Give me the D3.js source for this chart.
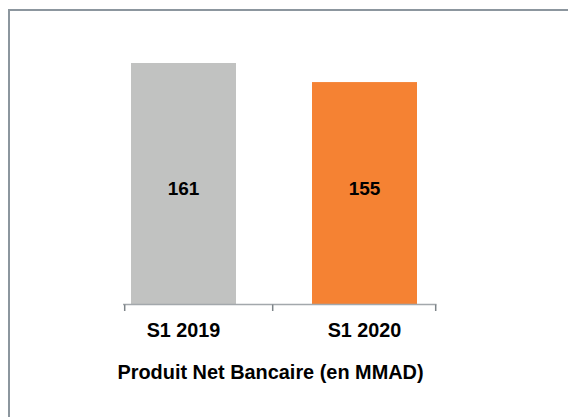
<!DOCTYPE html>
<html>
<head>
<meta charset="utf-8">
<script src="https://cdn.jsdelivr.net/npm/d3@7"></script>
<style>
  html, body { margin: 0; padding: 0; background: #ffffff; }
  svg { display: block; }
  text { font-family: "Liberation Sans", Arial, Helvetica, sans-serif; font-weight: bold; fill: #000; }
</style>
</head>
<body>
<svg id="chart" width="568" height="417"></svg>
<script>
const categories = ["S1 2019", "S1 2020"];
const values = [161, 155];
const valueLabels = ["161", "155"];
const colors = ["#c1c2c1", "#f58233"];
const title = "Produit Net Bancaire (en MMAD)";

const W = 568, H = 417;
const svg = d3.select("#chart");

// frame (top and left borders only)
svg.append("path")
  .attr("d", `M9,${H} L9,10 L${W},10`)
  .attr("fill", "none")
  .attr("stroke", "#8c969e")
  .attr("stroke-width", 2);

const baseY = 304.5;
const x = d3.scaleBand().domain(categories).range([131, 417]).paddingInner(0.42).paddingOuter(0);
const y = d3.scaleLinear().domain([85, 165]).range([baseY, 50.3]);

// bars
svg.selectAll("rect.bar").data(values).enter().append("rect")
  .attr("class", "bar")
  .attr("x", (d, i) => x(categories[i]))
  .attr("y", d => y(d))
  .attr("width", x.bandwidth())
  .attr("height", d => baseY - y(d))
  .attr("fill", (d, i) => colors[i]);

// axis line with ticks
const axisLeft = 123, axisRight = 436.5;
svg.append("line")
  .attr("x1", axisLeft).attr("x2", axisRight)
  .attr("y1", baseY).attr("y2", baseY)
  .attr("stroke", "#a3a8ac").attr("stroke-width", 1.5);
const tickXs = [124.7, 272.7, 435.7];
svg.selectAll("line.tick").data(tickXs).enter().append("line")
  .attr("class", "tick")
  .attr("x1", d => d).attr("x2", d => d)
  .attr("y1", baseY).attr("y2", 311)
  .attr("stroke", "#7d8489").attr("stroke-width", 1.5);

// category labels
svg.selectAll("text.cat").data(categories).enter().append("text")
  .attr("class", "cat")
  .attr("x", d => x(d) + x.bandwidth() / 2)
  .attr("y", 336.8)
  .attr("text-anchor", "middle")
  .attr("font-size", "19.8px")
  .text(d => d);

// value labels
svg.selectAll("text.val").data(values).enter().append("text")
  .attr("class", "val")
  .attr("x", (d, i) => x(categories[i]) + x.bandwidth() / 2)
  .attr("y", 195.4)
  .attr("text-anchor", "middle")
  .attr("font-size", "19px")
  .text((d, i) => valueLabels[i]);

// title
svg.append("text")
  .attr("x", 270.5)
  .attr("y", 379.3)
  .attr("text-anchor", "middle")
  .attr("font-size", "19.9px")
  .text(title);
</script>
</body>
</html>
